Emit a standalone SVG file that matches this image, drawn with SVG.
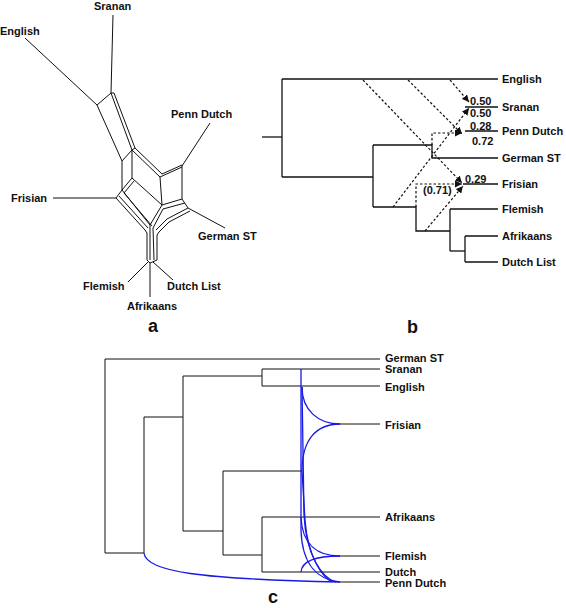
<svg xmlns="http://www.w3.org/2000/svg" width="566" height="608" viewBox="0 0 566 608">
<style>
text{font-family:"Liberation Sans",Arial,sans-serif;font-weight:bold;fill:#111}
.lab{font-size:11px}
.num{font-size:11px}
.pl{font-size:18px}
.ln{stroke:#111;stroke-width:1;fill:none}
.tb{stroke:#111;stroke-width:1.3;fill:none}
.dt{stroke:#111;stroke-width:1.2;fill:none;stroke-dasharray:2.5,2}
.bl{stroke:#1a1ae6;stroke-width:1.3;fill:none}
</style>
<defs>
<marker id="ah" markerUnits="userSpaceOnUse" markerWidth="8" markerHeight="7" refX="7" refY="3.5" orient="auto">
<path d="M0,0 L7,3.5 L0,7 Z" fill="#111"/>
</marker>
</defs>
<rect width="566" height="608" fill="#fff"/>

<g id="connectors">
<g id="network-a" class="ln">
<path d="M113,15 L111,93"/>
<path d="M25,38 L97,105"/>
<path d="M97,105 L111,93 L114,93"/>
<path d="M97,105 L122,161"/>
<path d="M111,93 L132,150"/>
<path d="M114,93 L135,148"/>
<path d="M122,161 L132,150 L135,148"/>
<path d="M132,150 L160,177"/>
<path d="M135,148 L162,174"/>
<path d="M160,177 L182,167"/>
<path d="M162,174 L182,165"/>
<path d="M182,166 L210,123"/>
<path d="M182,165 L182,199"/>
<path d="M160,177 L162,205"/>
<path d="M132,150 L132,178"/>
<path d="M122,161 L122,190"/>
<path d="M132,178 L162,205"/>
<path d="M132,178 L122,190"/>
<path d="M134,181 L124,193"/>
<path d="M182,199 L188,208"/>
<path d="M162,205 L182,199"/>
<path d="M163,209 L185,203"/>
<path d="M188,208 L225,228"/>
<path d="M53,198 L116,198"/>
<path d="M122,190 L116,198"/>
<path d="M116,198 L145,230"/>
<path d="M119,196 L148,228"/>
<path d="M122,190 L150,225"/>
<path d="M124,193 L152,226"/>
<path d="M162,205 L150,225"/>
<path d="M163,209 L153,228"/>
<path d="M188,208 L167,219 L156,230"/>
<path d="M190,211 L169,222 L159,232"/>
<path d="M145,230 L147,233 L147,260"/>
<path d="M150,225 L150,260"/>
<path d="M153,228 L154,260"/>
<path d="M159,232 L157,235 L157,260"/>
<path d="M147,260 L150,263 L157,260"/>
<path d="M148,262 L128,282"/>
<path d="M150,263 L150,297"/>
<path d="M153,262 L173,280"/>
</g>

<g id="tree-b" class="tb">
<path d="M262,137 L282,137"/>
<path d="M282,79 L282,177"/>
<path d="M282,79 L498,79"/>
<path d="M282,177 L373,177"/>
<path d="M373,145 L373,207"/>
<path d="M373,145 L432,145 L432,158 L498,158"/>
<path d="M373,207 L416,207 L416,231 L450,231"/>
<path d="M450,209 L450,251"/>
<path d="M450,209 L498,209"/>
<path d="M450,251 L465,251"/>
<path d="M465,236 L465,262"/>
<path d="M465,236 L498,236"/>
<path d="M465,262 L498,262"/>
<path d="M465,107 L498,107"/>
<path d="M465,131 L498,131"/>
<path d="M463,184 L498,184"/>
</g>
<g id="reticulations-b" class="dt">
<path d="M450,80 L469,102" marker-end="url(#ah)"/>
<path d="M393,207 L469,108" marker-end="url(#ah)"/>
<path d="M408,80 L462,134" marker-end="url(#ah)"/>
<path d="M432,145 L432,133 L462,133" marker-end="url(#ah)"/>
<path d="M363,80 L462,183" marker-end="url(#ah)"/>
<path d="M416,207 L416,184 L462,184" marker-end="url(#ah)"/>
<path d="M425,231 L463,186" marker-end="url(#ah)"/>
</g>

<g id="tree-c" class="ln">
<path d="M105,359 L380,359"/>
<path d="M105,359 L105,553 L144,553"/>
<path d="M144,417 L144,553"/>
<path d="M144,417 L183,417"/>
<path d="M183,376 L183,531 L223,531"/>
<path d="M183,376 L262,376"/>
<path d="M262,369 L262,386"/>
<path d="M262,369 L380,369"/>
<path d="M262,386 L380,386"/>
<path d="M223,471 L223,555 L262,555"/>
<path d="M223,471 L302,471"/>
<path d="M262,517 L262,572"/>
<path d="M262,517 L380,517"/>
<path d="M262,572 L380,572"/>
<path d="M340,424 L380,424"/>
<path d="M340,556 L380,556"/>
<path d="M340,582 L380,582"/>
</g>
<g id="reticulations-c" class="bl">
<path d="M301,369 L301,530 C302,565 318,580 340,582"/>
<path d="M302,387 C302,410 318,424 340,424"/>
<path d="M302,471 C302,440 316,424 340,424"/>
<path d="M302,387 L304,515 C306,555 322,578 336,582"/>
<path d="M302,471 L305,520 C308,560 324,578 332,582"/>
<path d="M301,517 C302,545 318,556 340,556"/>
<path d="M301,572 C302,560 318,556 340,556"/>
<path d="M144,553 C146,572 200,579 340,582"/>
</g>
</g>

<g id="a-Sranan"><text class="lab" x="94" y="10">Sranan</text></g>
<g id="a-English"><text class="lab" x="0" y="35">English</text></g>
<g id="a-PennDutch"><text class="lab" x="171" y="118">Penn Dutch</text></g>
<g id="a-Frisian"><text class="lab" x="11" y="202">Frisian</text></g>
<g id="a-GermanST"><text class="lab" x="198" y="240">German ST</text></g>
<g id="a-Flemish"><text class="lab" x="83" y="290">Flemish</text></g>
<g id="a-DutchList"><text class="lab" x="167" y="290">Dutch List</text></g>
<g id="a-Afrikaans"><text class="lab" x="127" y="310">Afrikaans</text></g>
<g id="label-a"><text class="pl" x="148" y="332">a</text></g>

<g id="b-English"><text class="lab" x="502" y="83">English</text></g>
<g id="b-Sranan"><text class="lab" x="502" y="111">Sranan</text></g>
<g id="b-PennDutch"><text class="lab" x="502" y="135">Penn Dutch</text></g>
<g id="b-GermanST"><text class="lab" x="502" y="162">German ST</text></g>
<g id="b-Frisian"><text class="lab" x="502" y="188">Frisian</text></g>
<g id="b-Flemish"><text class="lab" x="502" y="213">Flemish</text></g>
<g id="b-Afrikaans"><text class="lab" x="502" y="240">Afrikaans</text></g>
<g id="b-DutchList"><text class="lab" x="502" y="266">Dutch List</text></g>
<g id="b-weights">
<text class="num" x="470" y="105">0.50</text>
<text class="num" x="470" y="117">0.50</text>
<text class="num" x="470" y="130">0.28</text>
<text class="num" x="472" y="145">0.72</text>
<text class="num" x="465" y="183">0.29</text>
<text class="num" x="423" y="194">(0.71)</text>
</g>
<g id="label-b"><text class="pl" x="407" y="333">b</text></g>

<g id="c-GermanST"><text class="lab" x="385" y="362">German ST</text></g>
<g id="c-Sranan"><text class="lab" x="385" y="373">Sranan</text></g>
<g id="c-English"><text class="lab" x="385" y="391">English</text></g>
<g id="c-Frisian"><text class="lab" x="385" y="429">Frisian</text></g>
<g id="c-Afrikaans"><text class="lab" x="385" y="521">Afrikaans</text></g>
<g id="c-Flemish"><text class="lab" x="385" y="560">Flemish</text></g>
<g id="c-Dutch"><text class="lab" x="385" y="576">Dutch</text></g>
<g id="c-PennDutch"><text class="lab" x="385" y="587">Penn Dutch</text></g>
<g id="label-c"><text class="pl" x="268" y="603">c</text></g>
</svg>
